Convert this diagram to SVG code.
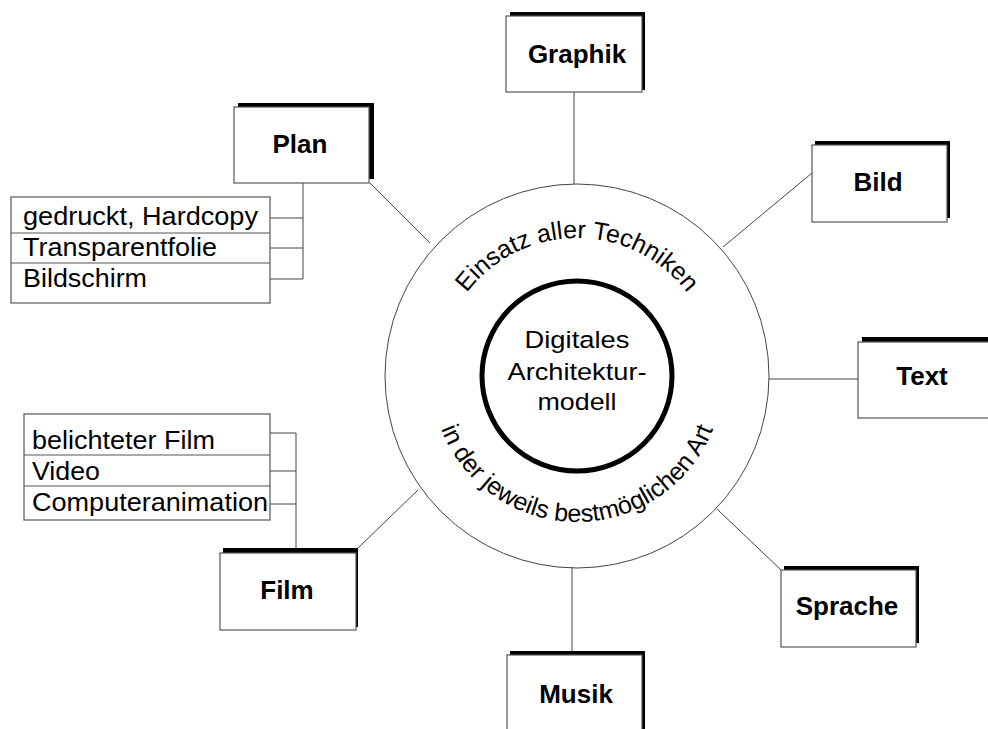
<svg xmlns="http://www.w3.org/2000/svg" width="988" height="729" viewBox="0 0 988 729">
<style>
.shadow{fill:#000}
.box{fill:#fff;stroke:#555;stroke-width:1.2}
.lbl{font-family:"Liberation Sans",Arial,sans-serif;font-weight:bold;font-size:26px;text-anchor:middle;fill:#000}
.item{font-family:"Liberation Sans",Arial,sans-serif;font-size:25px;fill:#000}
.arc{font-family:"Liberation Sans",Arial,sans-serif;font-size:25px;fill:#000}
.ctr{font-family:"Liberation Sans",Arial,sans-serif;font-size:24.5px;text-anchor:middle;fill:#000}
.con{stroke:#444;stroke-width:1;fill:none}
.div{stroke:#555;stroke-width:1}
</style>
<defs>
<path id="topArc" d="M 439,376 A 138,138 0 0 1 715,376"/>
<path id="botArc" d="M 431,376 A 146,146 0 0 0 723,376"/>
</defs>
<rect width="988" height="729" fill="#fff"/>
<g id="connectors">
<line class="con" x1="574" y1="92" x2="574" y2="184"/>
<line class="con" x1="370" y1="183" x2="430" y2="243"/>
<line class="con" x1="723" y1="247" x2="812" y2="173"/>
<line class="con" x1="769" y1="379" x2="858" y2="379"/>
<line class="con" x1="717" y1="509" x2="781" y2="570"/>
<line class="con" x1="572" y1="567" x2="572" y2="655"/>
<line class="con" x1="358" y1="548" x2="418" y2="490"/>
<line class="con" x1="303" y1="183" x2="303" y2="279"/>
<line class="con" x1="270" y1="218" x2="303" y2="218"/>
<line class="con" x1="270" y1="248" x2="303" y2="248"/>
<line class="con" x1="270" y1="279" x2="303" y2="279"/>
<line class="con" x1="296" y1="433" x2="296" y2="549"/>
<line class="con" x1="270" y1="433" x2="296" y2="433"/>
<line class="con" x1="270" y1="471" x2="296" y2="471"/>
<line class="con" x1="270" y1="504" x2="296" y2="504"/>
</g>
<g id="center">
<circle cx="577" cy="376" r="192" fill="none" stroke="#444" stroke-width="1"/>
<circle cx="577" cy="376" r="95" fill="none" stroke="#000" stroke-width="5"/>
<text class="arc"><textPath href="#topArc" startOffset="50%" text-anchor="middle">Einsatz aller Techniken</textPath></text>
<text class="arc"><textPath href="#botArc" startOffset="50%" text-anchor="middle">in der jeweils bestmöglichen Art</textPath></text>
<text class="ctr" x="577" y="348" textLength="105" lengthAdjust="spacingAndGlyphs">Digitales</text>
<text class="ctr" x="577" y="380" textLength="139" lengthAdjust="spacingAndGlyphs">Architektur-</text>
<text class="ctr" x="577" y="410" textLength="79" lengthAdjust="spacingAndGlyphs">modell</text>
</g>
<g id="graphik">
<rect class="shadow" x="510" y="12" width="135" height="78"/>
<rect class="box" x="506" y="16" width="136" height="76"/>
<text class="lbl" x="577" y="63">Graphik</text>
</g>
<g id="plan">
<rect class="shadow" x="238" y="103" width="136" height="76"/>
<rect class="box" x="234" y="107" width="135" height="76"/>
<text class="lbl" x="300" y="153">Plan</text>
</g>
<g id="plan-list">
<rect class="box" x="11" y="197" width="259" height="106"/>
<line class="div" x1="11" y1="233" x2="270" y2="233"/>
<line class="div" x1="11" y1="263" x2="270" y2="263"/>
<text class="item" x="23" y="225" textLength="235" lengthAdjust="spacingAndGlyphs">gedruckt, Hardcopy</text>
<text class="item" x="23" y="256" textLength="194" lengthAdjust="spacingAndGlyphs">Transparentfolie</text>
<text class="item" x="23" y="287" textLength="124" lengthAdjust="spacingAndGlyphs">Bildschirm</text>
</g>
<g id="bild">
<rect class="shadow" x="815" y="141" width="135" height="77"/>
<rect class="box" x="812" y="145" width="135" height="77"/>
<text class="lbl" x="878" y="191">Bild</text>
</g>
<g id="text">
<rect class="shadow" x="862" y="337" width="140" height="76"/>
<rect class="box" x="858" y="342" width="140" height="76"/>
<text class="lbl" x="922" y="385">Text</text>
</g>
<g id="sprache">
<rect class="shadow" x="784" y="566" width="135" height="77"/>
<rect class="box" x="781" y="570" width="135" height="77"/>
<text class="lbl" x="847" y="615">Sprache</text>
</g>
<g id="musik">
<rect class="shadow" x="510" y="651" width="135" height="90"/>
<rect class="box" x="507" y="655" width="135" height="90"/>
<text class="lbl" x="576" y="703">Musik</text>
</g>
<g id="film-list">
<rect class="box" x="24" y="414" width="246" height="106"/>
<line class="div" x1="24" y1="455" x2="270" y2="455"/>
<line class="div" x1="24" y1="486" x2="270" y2="486"/>
<text class="item" x="32" y="449" textLength="183" lengthAdjust="spacingAndGlyphs">belichteter Film</text>
<text class="item" x="32" y="480" textLength="68" lengthAdjust="spacingAndGlyphs">Video</text>
<text class="item" x="32" y="511" textLength="236" lengthAdjust="spacingAndGlyphs">Computeranimation</text>
</g>
<g id="film">
<rect class="shadow" x="223" y="548" width="135" height="79"/>
<rect class="box" x="220" y="553" width="136" height="77"/>
<text class="lbl" x="287" y="599">Film</text>
</g>
</svg>
